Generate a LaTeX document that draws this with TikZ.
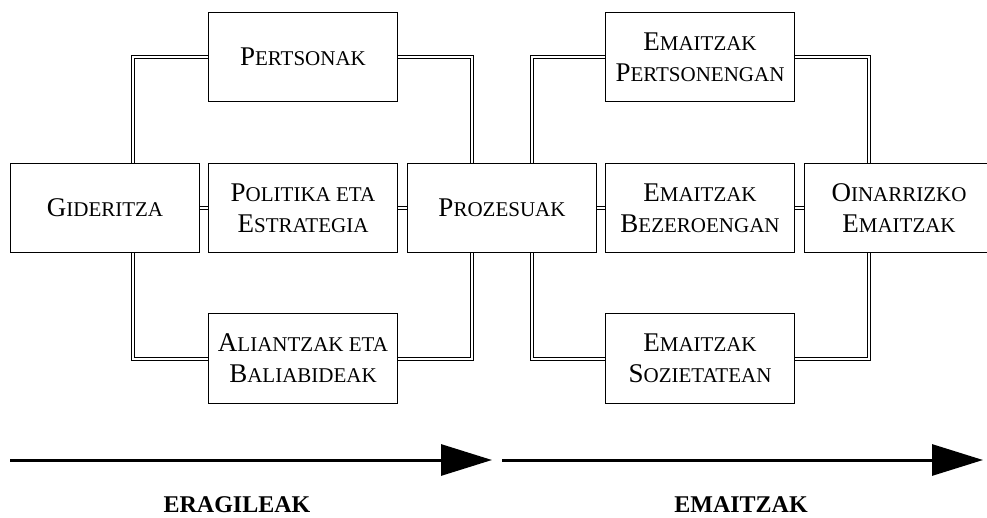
\documentclass[tikz,border=0pt]{standalone}
\usepackage{fontspec}
\setmainfont{Liberation Serif}
\usetikzlibrary{arrows.meta,backgrounds}
\newcommand\BigL[1]{{\fontsize{27}{31}\selectfont #1}}
\begin{document}
\begin{tikzpicture}[x=1pt,y=-1pt,
 box/.style={draw,line width=1pt,fill=white,minimum width=189pt,minimum height=89pt,inner sep=0pt,align=center,font=\fontsize{21}{31}\selectfont},
 dbl/.style={draw,line width=1pt,double=white,double distance=2pt},
 flow/.style={line width=3pt,-{Triangle[length=51pt,width=31pt]}},
 lbl/.style={font=\fontsize{24}{28}\selectfont\bfseries,anchor=base}]
\useasboundingbox (0,0) rectangle (987,518);
\clip (0,0) rectangle (987,518);
\node[box] (gid) at (105,208) {\BigL{G}IDERITZA};
\node[box] (pers) at (303,57) {\BigL{P}ERTSONAK};
\node[box] (pol) at (303,208) {\BigL{P}OLITIKA ETA\\\BigL{E}STRATEGIA};
\node[box] (proz) at (502,208) {\BigL{P}ROZESUAK};
\node[box] (ali) at (303,358.5) {\BigL{A}LIANTZAK ETA\\\BigL{B}ALIABIDEAK};
\node[box] (epers) at (700,57) {\BigL{E}MAITZAK\\\BigL{P}ERTSONENGAN};
\node[box] (ebez) at (700,208) {\BigL{E}MAITZAK\\\BigL{B}EZEROENGAN};
\node[box] (oin) at (899,208) {\BigL{O}INARRIZKO\\\BigL{E}MAITZAK};
\node[box] (esoz) at (700,358.5) {\BigL{E}MAITZAK\\\BigL{S}OZIETATEAN};
\begin{pgfonlayer}{background}
\draw[dbl] (pers.west) -| ([xshift=123pt]gid.north west);
\draw[dbl] ([xshift=123pt]gid.south west) |- (ali.west);
\draw[dbl] (pers.east) -| ([xshift=65pt]proz.north west);
\draw[dbl] ([xshift=65pt]proz.south west) |- (ali.east);
\draw[dbl] (epers.west) -| ([xshift=125pt]proz.north west);
\draw[dbl] ([xshift=125pt]proz.south west) |- (esoz.west);
\draw[dbl] (epers.east) -| ([xshift=65pt]oin.north west);
\draw[dbl] ([xshift=65pt]oin.south west) |- (esoz.east);
\draw[dbl] (gid) -- (pol);
\draw[dbl] (pol) -- (proz);
\draw[dbl] (proz) -- (ebez);
\draw[dbl] (ebez) -- (oin);
\end{pgfonlayer}
\coordinate (a1s) at (10,460);
\coordinate (a1e) at (492,460);
\coordinate (a2s) at (502,460);
\coordinate (a2e) at (983,460);
\draw[flow] (a1s) -- (a1e);
\draw[flow] (a2s) -- (a2e);
\node[lbl] (l1) at (237,512) {ERAGILEAK};
\node[lbl] (l2) at (741,512) {EMAITZAK};
\end{tikzpicture}
\end{document}
